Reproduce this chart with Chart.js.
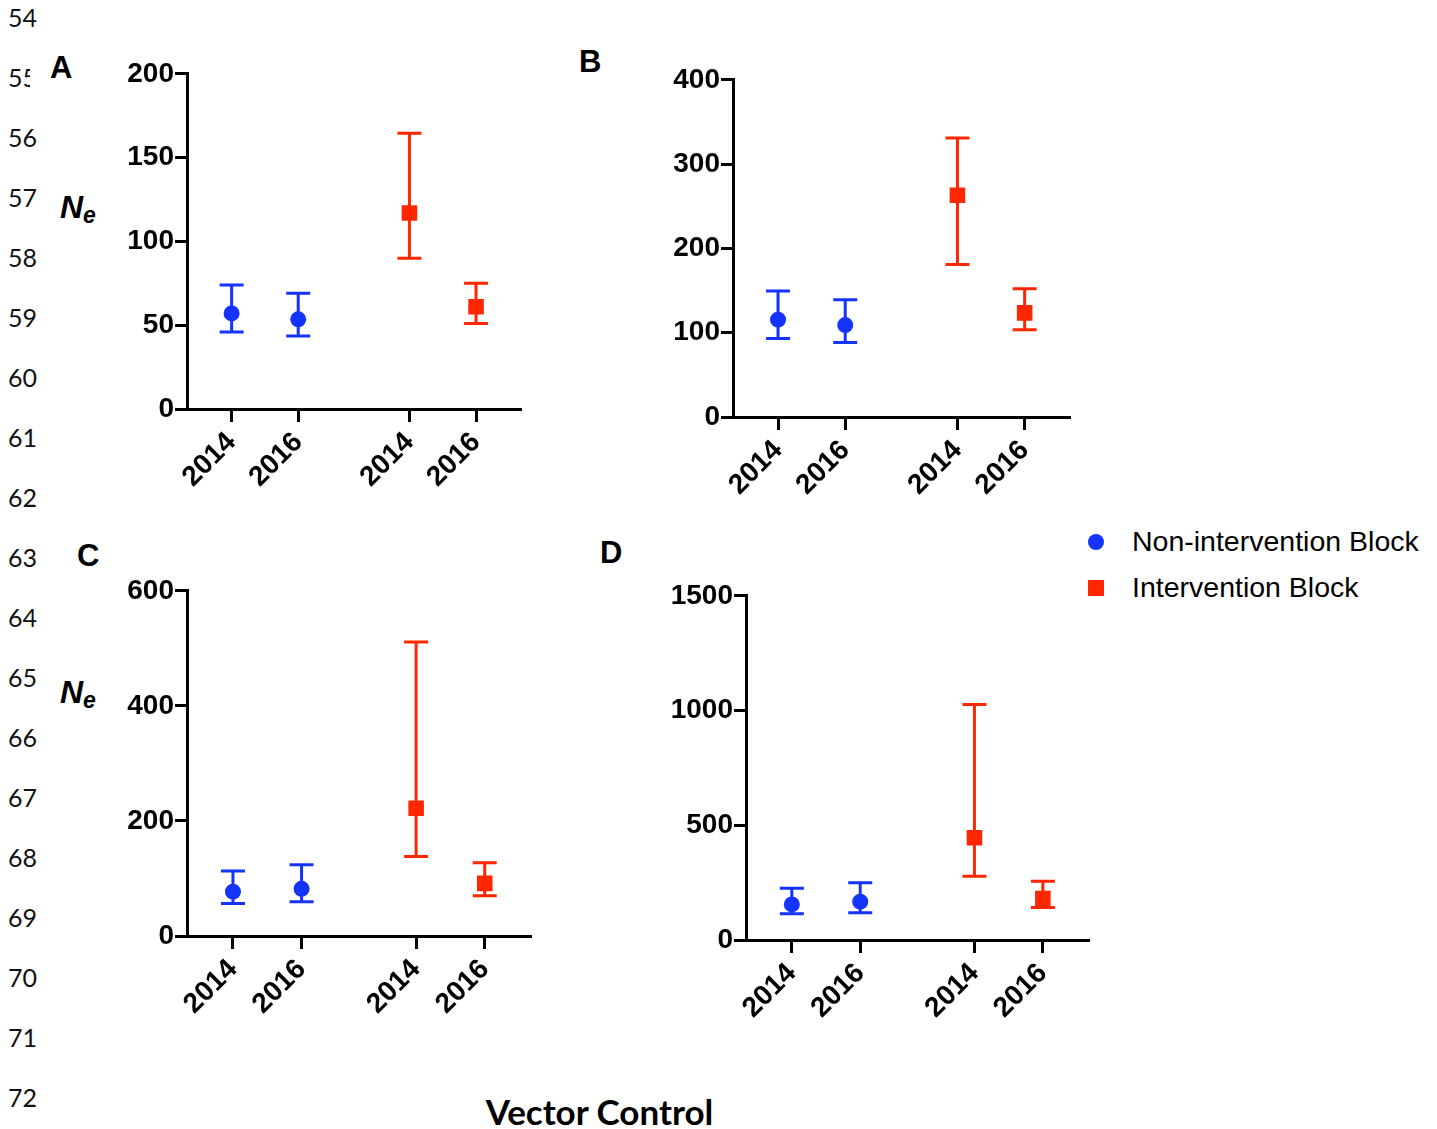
<!DOCTYPE html>
<html>
<head>
<meta charset="utf-8">
<script src="https://cdn.jsdelivr.net/npm/chart.js@4.4.0/dist/chart.umd.min.js"></script>
<style>
  body { margin: 0; background: #fff; }
  #page { position: relative; width: 1437px; height: 1129px; overflow: hidden; background: #fff; }
  canvas { position: absolute; }
  .lineno { position: absolute; left: 8px; font: 25px Lato, sans-serif; color: #111; line-height: 24px; }
  .letter { position: absolute; font: bold 31px "Liberation Sans", Arial, sans-serif; color: #000; }
  .ne { position: absolute; font: italic bold 32px "Liberation Sans", Arial, sans-serif; color: #000; }
  .ne sub { font-size: 23px; vertical-align: -5px; }
  .legend-row { position: absolute; left: 1088px; font: 28.5px "Liberation Sans", Arial, sans-serif; color: #000; display: flex; align-items: center; }
  .legend-row .mk { width: 16px; height: 16px; margin-right: 28px; }
  #xtitle { position: absolute; left: 0; width: 1199px; top: 1090px; text-align: center; font: bold 35px Lato, sans-serif; color: #000; }
</style>
</head>
<body>
<div id="page">
  <div id="linenos"></div>
  <div class="letter" style="left:50px;top:50px;">A</div>
  <div class="letter" style="left:579px;top:44px;">B</div>
  <div class="letter" style="left:77px;top:538px;">C</div>
  <div class="letter" style="left:600px;top:535px;">D</div>
  <div class="ne" style="left:60px;top:189px;">N<sub>e</sub></div>
  <div class="ne" style="left:60px;top:674px;">N<sub>e</sub></div>
  <div class="legend-row" style="top:525px;"><div class="mk" style="background:#1433ff;border-radius:50%;"></div>Non-intervention Block</div>
  <div class="legend-row" style="top:571px;"><div class="mk" style="background:#ff2600;"></div>Intervention Block</div>
  <div id="xtitle">Vector Control</div>
  <canvas id="panelA"></canvas>
  <canvas id="panelB"></canvas>
  <canvas id="panelC"></canvas>
  <canvas id="panelD"></canvas>
</div>
<script>
// ---- data ----
const lineNumbers = [54, 55, 56, 57, 58, 59, 60, 61, 62, 63, 64, 65, 66, 67, 68, 69, 70, 71, 72];
const yearLabels = ["2014", "2016", "2014", "2016"];
const xPositions = [1, 2, 3.67, 4.67];
const groupNames = ["Non-intervention Block", "Intervention Block"];

// first two points: non-intervention, last two: intervention
const meanA = [57, 53.5, 117, 61];
const lowA = [46, 43.5, 90, 51];
const highA = [74, 69, 164.5, 75];
const ticksA = [0, 50, 100, 150, 200];

const meanB = [115.5, 109, 263, 123.5];
const lowB = [93, 88.5, 181, 103.5];
const highB = [149.5, 139, 331, 152];
const ticksB = [0, 100, 200, 300, 400];

const meanC = [77, 82, 222, 91.5];
const lowC = [56.5, 59.5, 138, 70];
const highC = [113, 124, 511, 127.5];
const ticksC = [0, 200, 400, 600];

const meanD = [155, 167, 446, 181];
const lowD = [114, 119, 278, 142];
const highD = [226, 249, 1026, 256];
const ticksD = [0, 500, 1000, 1500];

// ---- layout ----
const BLUE = "#1433ff";
const RED = "#ff2600";
const Y_AXIS_W = 95, X_AXIS_H = 100, PAD_TOP = 16, PAD_RIGHT = 8;

// line numbers down the left margin
const ln = document.getElementById("linenos");
lineNumbers.forEach((n, i) => {
    const d = document.createElement("div");
    d.className = "lineno";
    d.style.top = (5 + i * 60) + "px";
    d.textContent = n;
    if (n === 55) { d.style.width = "22px"; d.style.overflow = "hidden"; }
    ln.appendChild(d);
});

// error bars drawn under the markers
const errorBars = {
    id: "errorBars",
    beforeDatasetsDraw(chart) {
        const c = chart.ctx;
        const y = chart.scales.y;
        chart.data.datasets.forEach((ds, di) => {
            const meta = chart.getDatasetMeta(di);
            meta.data.forEach((pt, j) => {
                const raw = ds.data[j];
                const top = y.getPixelForValue(raw.hi);
                const bot = y.getPixelForValue(raw.lo);
                c.save();
                c.strokeStyle = ds.backgroundColor;
                c.lineWidth = 3;
                c.beginPath();
                c.moveTo(pt.x, top); c.lineTo(pt.x, bot);
                c.moveTo(pt.x - 12, top); c.lineTo(pt.x + 12, top);
                c.moveTo(pt.x - 12, bot); c.lineTo(pt.x + 12, bot);
                c.stroke();
                c.restore();
            });
        });
    }
};

function makePanel(id, axisX, right, top, bottom, mean, low, high, yTicks) {
    const canvas = document.getElementById(id);
    const w = Y_AXIS_W + (right - axisX) + PAD_RIGHT;
    const h = PAD_TOP + (bottom - top) + X_AXIS_H;
    canvas.width = w; canvas.height = h;
    canvas.style.left = (axisX - Y_AXIS_W) + "px";
    canvas.style.top = (top - PAD_TOP) + "px";
    canvas.style.width = w + "px"; canvas.style.height = h + "px";

    const pts = idx => idx.map(i => ({ x: xPositions[i], y: mean[i], lo: low[i], hi: high[i] }));
    const tickFont = { family: "'Liberation Sans', Arial, sans-serif", size: 28, weight: "bold" };

    new Chart(canvas.getContext("2d"), {
        type: "scatter",
        data: {
            datasets: [
                { label: groupNames[0], data: pts([0, 1]), backgroundColor: BLUE, borderWidth: 0, pointStyle: "circle", pointRadius: 8 },
                { label: groupNames[1], data: pts([2, 3]), backgroundColor: RED, borderWidth: 0, pointStyle: "rect", pointRadius: 11 }
            ]
        },
        options: {
            responsive: false,
            animation: false,
            devicePixelRatio: 1,
            layout: { padding: { top: PAD_TOP, right: PAD_RIGHT, left: 0, bottom: 0 } },
            plugins: { legend: { display: false }, tooltip: { enabled: false } },
            scales: {
                x: {
                    type: "linear",
                    min: 0.33,
                    max: 5.33,
                    afterBuildTicks: s => { s.ticks = xPositions.map(v => ({ value: v })); },
                    afterFit: s => { s.height = X_AXIS_H; },
                    ticks: {
                        callback: (v, i) => yearLabels[i],
                        minRotation: 45, maxRotation: 45,
                        color: "#000", font: tickFont, padding: 4
                    },
                    grid: { drawOnChartArea: false, tickLength: 13, color: "#000", lineWidth: 3 },
                    border: { color: "#000", width: 3 }
                },
                y: {
                    min: 0,
                    max: yTicks[yTicks.length - 1],
                    afterBuildTicks: s => { s.ticks = yTicks.map(v => ({ value: v })); },
                    afterFit: s => { s.width = Y_AXIS_W; },
                    ticks: { color: "#000", font: tickFont, padding: 1, callback: v => String(v) },
                    grid: { drawOnChartArea: false, tickLength: 12, color: "#000", lineWidth: 3 },
                    border: { color: "#000", width: 3 }
                }
            }
        },
        plugins: [errorBars]
    });
}

makePanel("panelA", 187, 523, 72, 409, meanA, lowA, highA, ticksA);
makePanel("panelB", 733, 1072, 78, 417, meanB, lowB, highB, ticksB);
makePanel("panelC", 187, 533, 589, 936, meanC, lowC, highC, ticksC);
makePanel("panelD", 746, 1091, 594, 940, meanD, lowD, highD, ticksD);
</script>
</body>
</html>
